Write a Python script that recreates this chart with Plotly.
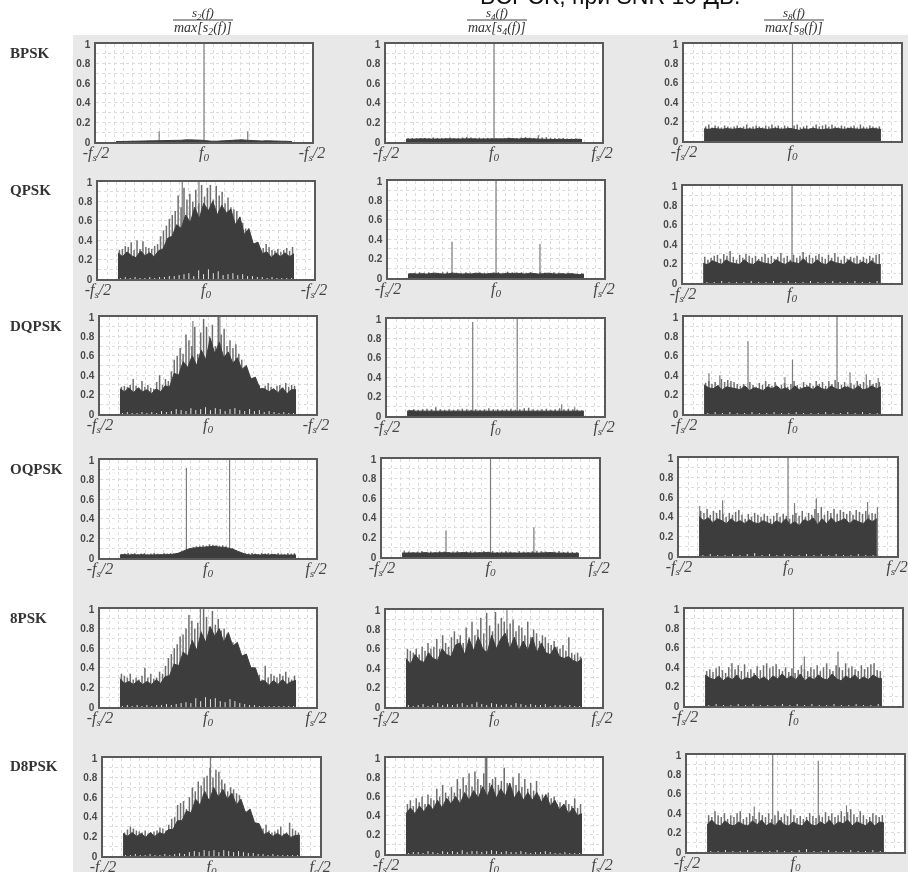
import numpy as np
import plotly.graph_objects as go

BAND_EDGE = 0.815
GREY_BG = "#e8e8e8"

# ---------- column 1 (s2) ----------
bpsk_s2_body = [.004,.005,.006,.008,.01,.01,.012,.01,.008,.01,.012,.012,.015,.018,.022,.024,.02,.018,.012,.008,.008,.012,.016,.02,.024,.022,.018,.014,.012,.01,.012,.01,.01,.008,.006,.005]
bpsk_s2_tip = bpsk_s2_body
bpsk_s2_low = []
bpsk_s2_sx = [-.415, 0, .405]
bpsk_s2_sy = [.11, 1.0, .11]

qpsk_s2_body = [.27,.23,.28,.24,.22,.29,.24,.27,.23,.29,.31,.42,.44,.56,.52,.66,.58,.74,.62,.78,.70,.80,.66,.76,.68,.72,.56,.64,.46,.52,.36,.38,.26,.28,.22,.27,.23,.27,.23,.26]
qpsk_s2_tip = [.30,.31,.34,.33,.38,.30,.40,.31,.39,.33,.32,.31,.34,.36,.44,.50,.55,.62,.66,.70,.86,.74,.94,.82,.88,.80,.92,.78,.97,.85,.94,.97,.82,.96,.86,.90,.78,.84,.74,.72,.70,.64,.58,.52,.48,.40,.34,.38,.30,.32,.36,.33,.30,.29,.31,.28,.30,.32,.29,.33]
qpsk_s2_low = [.01,.02,.01,.02,.01,.01,.02,.01,.02,.02,.03,.03,.04,.05,.06,.03,.09,.05,.10,.06,.08,.04,.05,.06,.04,.05,.03,.03,.02,.02,.01,.02,.01,.01,.01,.01]
qpsk_s2_sx = [-.22, -.065]
qpsk_s2_sy = [1.0, 1.0]

dqpsk_s2_body = [.26,.23,.27,.22,.27,.23,.25,.21,.26,.23,.29,.28,.42,.40,.54,.48,.60,.50,.66,.56,.78,.62,.74,.58,.64,.52,.58,.46,.50,.36,.38,.26,.26,.23,.26,.22,.27,.21,.25,.25]
dqpsk_s2_tip = [.28,.29,.28,.30,.36,.29,.27,.34,.28,.30,.27,.26,.33,.40,.30,.36,.34,.44,.56,.60,.68,.62,.82,.76,.70,.90,.62,.84,.98,.90,.80,.92,.70,1.0,.82,.88,.70,.76,.68,.72,.62,.56,.48,.44,.38,.30,.28,.30,.27,.29,.32,.28,.26,.29,.30,.27,.32,.28,.30,.29]
dqpsk_s2_low = [.01,.02,.01,.01,.02,.01,.02,.01,.03,.02,.03,.05,.04,.03,.06,.04,.05,.07,.04,.06,.05,.03,.05,.06,.04,.03,.05,.03,.04,.02,.03,.02,.01,.02,.01,.01]
dqpsk_s2_sx = [-.14, .11]
dqpsk_s2_sy = [.96, 1.0]

oqpsk_s2_body = [.03,.035,.03,.035,.03,.035,.03,.03,.035,.03,.03,.035,.04,.05,.07,.09,.10,.105,.11,.115,.115,.12,.11,.11,.10,.09,.07,.05,.035,.03,.035,.03,.035,.03,.035,.03,.03,.035,.03,.03]
oqpsk_s2_tip = [.04,.045,.05,.045,.05,.04,.045,.05,.04,.045,.05,.045,.04,.05,.045,.05,.045,.05,.06,.07,.09,.10,.11,.12,.125,.13,.125,.14,.135,.13,.125,.13,.12,.11,.10,.08,.06,.05,.05,.045,.05,.045,.04,.05,.045,.05,.045,.04,.05,.045,.04,.05,.045,.05]
oqpsk_s2_low = []
oqpsk_s2_sx = [-.2, .2]
oqpsk_s2_sy = [.92, 1.0]

epsk_s2_body = [.29,.24,.26,.23,.27,.23,.26,.23,.28,.24,.31,.32,.44,.42,.56,.52,.68,.58,.76,.66,.82,.72,.80,.66,.76,.62,.66,.52,.54,.40,.40,.26,.27,.22,.27,.23,.28,.23,.26,.27]
epsk_s2_tip = [.34,.32,.30,.34,.28,.30,.28,.32,.40,.30,.34,.29,.30,.36,.34,.42,.50,.54,.60,.64,.72,.74,.80,.94,.88,.80,.86,.78,1.0,.92,.82,.98,.84,.90,.78,.80,.74,.68,.66,.60,.52,.48,.42,.38,.30,.27,.30,.33,.28,.42,.30,.34,.32,.30,.34,.32,.36,.30,.28,.32]
epsk_s2_low = [.01,.02,.01,.02,.01,.02,.01,.02,.02,.03,.02,.03,.04,.05,.04,.09,.06,.10,.08,.09,.06,.05,.08,.06,.04,.03,.02,.02,.01,.01,.01,.01,.01,.01,.01,.01]
epsk_s2_sx = [-.07]
epsk_s2_sy = [1.0]

d8psk_s2_body = [.23,.20,.24,.20,.23,.19,.24,.20,.24,.22,.27,.27,.36,.36,.46,.44,.58,.52,.66,.56,.70,.60,.68,.58,.64,.52,.58,.44,.48,.34,.33,.22,.24,.20,.23,.20,.23,.19,.21,.21]
d8psk_s2_tip = [.24,.27,.30,.28,.26,.25,.24,.26,.23,.24,.25,.26,.29,.28,.26,.32,.38,.40,.52,.54,.56,.48,.60,.70,.66,.76,.72,.80,.82,.90,.80,.88,.86,.78,.74,.66,.70,.68,.64,.62,.52,.46,.38,.32,.28,.30,.26,.28,.32,.26,.24,.25,.27,.30,.23,.24,.34,.28,.26,.24]
d8psk_s2_low = [.01,.01,.02,.01,.01,.02,.01,.01,.02,.01,.02,.03,.02,.04,.05,.04,.06,.05,.06,.04,.06,.05,.04,.05,.04,.03,.03,.02,.02,.01,.02,.01,.01,.01,.01,.01]
d8psk_s2_sx = [-.01]
d8psk_s2_sy = [1.0]

# ---------- column 2 (s4) ----------
bpsk_s4_body = [.028,.03,.028,.03,.032,.03,.028,.03,.03,.032,.03,.028,.03,.032,.035,.032,.03,.03,.028,.025,.028,.03,.032,.035,.032,.03,.035,.03,.032,.03,.028,.03,.028,.025,.028,.025,.028,.025,.028,.025]
bpsk_s4_tip = [.04,.042,.038,.04,.042,.04,.045,.04,.042,.04,.045,.04,.042,.045,.05,.045,.042,.045,.04,.042,.04,.038,.035,.04,.045,.042,.04,.045,.05,.045,.042,.04,.045,.05,.042,.04,.038,.04,.035,.036,.038,.034]
bpsk_s4_low = []
bpsk_s4_sx = [0, .41]
bpsk_s4_sy = [1.0, .07]

qpsk_s4_body = [.04,.045,.04,.045,.04,.045,.05,.045,.04,.045,.05,.045,.04,.045,.04,.05,.045,.04,.045,.05,.045,.04,.05,.045,.05,.045,.04,.05,.045,.04,.045,.05,.045,.04,.045,.04,.045,.04,.035,.04]
qpsk_s4_tip = [.05,.055,.06,.055,.06,.055,.05,.06,.065,.06,.055,.05,.06,.055,.05,.06,.055,.05,.055,.06,.055,.065,.06,.055,.06,.055,.06,.05,.06,.055,.05,.06,.055,.05,.055,.05,.045,.05]
qpsk_s4_low = []
qpsk_s4_sx = [-.407, 0, .407]
qpsk_s4_sy = [.37, 1.0, .35]

dqpsk_s4_body = [.05,.055,.05,.05,.055,.05,.055,.05,.05,.055,.05,.05,.055,.05,.05,.055,.05,.05,.055,.05,.05,.055,.05,.055,.05,.05,.055,.05,.055,.05,.05,.055,.05,.05,.055,.05,.05,.055,.05,.05]
dqpsk_s4_tip = [.065,.07,.065,.07,.075,.07,.09,.07,.065,.07,.065,.07,.075,.07,.065,.07,.065,.07,.08,.07,.07,.065,.07,.075,.065,.07,.08,.085,.07,.065,.07,.075,.065,.07,.08,.07,.075,.07,.065,.06]
dqpsk_s4_low = []
dqpsk_s4_sx = [-.21, .2, .61, .73]
dqpsk_s4_sy = [.97, 1.0, .12, .09]

oqpsk_s4_body = [.04,.042,.04,.042,.04,.045,.04,.042,.04,.042,.045,.04,.042,.04,.045,.04,.042,.04,.042,.045,.04,.042,.04,.045,.042,.04,.042,.045,.04,.042,.04,.042,.04,.045,.04,.042,.04,.038,.04,.038]
oqpsk_s4_tip = [.065,.055,.05,.055,.06,.05,.055,.05,.06,.055,.05,.055,.06,.05,.055,.06,.055,.05,.06,.055,.06,.05,.055,.06,.055,.05,.06,.055,.05,.06,.065,.06,.055,.05,.055,.06,.05,.055,.05,.05]
oqpsk_s4_low = []
oqpsk_s4_sx = [-.41, 0, .40]
oqpsk_s4_sy = [.27, 1.0, .30]

epsk_s4_body = [.50,.44,.54,.48,.46,.56,.50,.48,.60,.54,.52,.64,.66,.54,.70,.58,.72,.60,.56,.74,.60,.70,.76,.60,.72,.58,.68,.58,.72,.56,.66,.56,.54,.62,.52,.50,.52,.48,.46,.50]
epsk_s4_tip = [.60,.58,.56,.60,.54,.62,.58,.66,.60,.62,.70,.60,.74,.66,.62,.72,.78,.70,.74,.66,.82,.72,.88,.74,.80,.92,.76,.97,.84,.78,.98,.86,.92,.88,.80,.86,.90,.78,.84,.82,.74,.88,.72,.80,.76,.68,.74,.72,.66,.64,.68,.62,.60,.64,.58,.72,.56,.54,.56,.52]
epsk_s4_low = [.02,.01,.02,.03,.01,.02,.04,.02,.03,.02,.03,.04,.02,.03,.05,.03,.02,.04,.03,.02,.03,.02,.04,.03,.02,.03,.02,.02,.03,.01,.02,.02,.01,.02,.01,.01]
epsk_s4_sx = [.12]
epsk_s4_sy = [1.0]

d8psk_s4_body = [.42,.48,.42,.50,.44,.52,.46,.56,.48,.58,.52,.60,.52,.64,.56,.66,.58,.70,.60,.72,.58,.68,.60,.74,.58,.66,.56,.64,.56,.64,.54,.62,.50,.56,.46,.52,.42,.48,.40,.42]
d8psk_s4_tip = [.52,.56,.50,.58,.54,.60,.52,.62,.58,.56,.68,.60,.72,.64,.60,.70,.64,.78,.68,.80,.72,.84,.70,.86,.78,.72,.84,1.0,.74,.78,.80,.72,.76,.90,.74,.66,.80,.72,.84,.70,.78,.68,.74,.66,.76,.60,.62,.56,.64,.58,.60,.52,.54,.50,.56,.52,.50,.58,.48,.52]
d8psk_s4_low = [.01,.02,.02,.01,.03,.02,.01,.03,.02,.03,.02,.04,.02,.03,.03,.02,.03,.04,.03,.02,.03,.02,.02,.03,.02,.01,.02,.02,.03,.02,.01,.01,.02,.01,.01,.01]
d8psk_s4_sx = [-.08]
d8psk_s4_sy = [1.0]

# ---------- column 3 (s8) ----------
bpsk_s8_body = [.125,.12,.13,.125,.12,.13,.12,.125,.13,.12,.125,.12,.13,.125,.12,.125,.13,.12,.125,.13,.12,.11,.125,.12,.13,.12,.115,.125,.12,.13,.125,.12,.13,.125,.12,.125,.12,.13,.125,.12]
bpsk_s8_tip = [.15,.17,.14,.16,.15,.14,.16,.15,.14,.15,.16,.14,.15,.17,.14,.15,.16,.15,.14,.16,.15,.17,.15,.16,.14,.16,.15,.13,.16,.17,.14,.15,.16,.13,.15,.17,.15,.16,.17,.15,.17,.15,.14,.16,.15,.14,.15,.16,.14,.17,.15,.14,.16,.15,.14,.15]
bpsk_s8_low = []
bpsk_s8_sx = [0]
bpsk_s8_sy = [1.0]

qpsk_s8_body = [.20,.19,.23,.21,.19,.24,.21,.20,.19,.24,.20,.19,.23,.21,.20,.19,.24,.21,.19,.22,.21,.20,.25,.20,.19,.24,.20,.19,.23,.21,.20,.19,.24,.20,.19,.22,.19,.23,.19,.19]
qpsk_s8_tip = [.27,.24,.26,.28,.29,.25,.30,.28,.33,.27,.24,.29,.26,.30,.28,.26,.28,.25,.27,.30,.26,.28,.25,.27,.31,.26,.28,.24,.29,.26,.28,.32,.27,.29,.26,.28,.30,.27,.25,.29,.26,.31,.27,.24,.28,.25,.27,.26,.28,.24,.27,.25,.28,.26,.29,.30]
qpsk_s8_low = [.01,.01,.02,.01,.01,.01,.02,.01,.01,.02,.01,.02,.01,.01,.02,.01,.01,.02,.01,.01,.02,.01,.01,.02]
qpsk_s8_sx = [0]
qpsk_s8_sy = [1.0]

dqpsk_s8_body = [.30,.27,.26,.29,.25,.28,.27,.26,.25,.29,.24,.27,.26,.24,.28,.26,.29,.25,.27,.24,.29,.25,.27,.28,.25,.29,.26,.25,.29,.26,.25,.28,.27,.25,.29,.25,.26,.29,.26,.28]
dqpsk_s8_tip = [.32,.34,.31,.33,.30,.36,.33,.35,.34,.33,.31,.29,.31,.28,.33,.30,.28,.32,.30,.34,.31,.29,.33,.28,.30,.32,.28,.31,.34,.30,.28,.33,.30,.32,.29,.34,.31,.33,.29,.34,.31,.35,.33,.30,.33,.29,.32,.30,.34,.31,.33,.30,.35,.31,.32,.33]
dqpsk_s8_low = [.01,.02,.01,.02,.01,.01,.02,.01,.01,.02,.01,.01,.02,.01,.01,.01,.02,.01,.01,.02,.01,.02,.01,.01]
dqpsk_s8_sx = [-.77, -.67, -.41, -.07, 0, .41, .53, .68, .79]
dqpsk_s8_sy = [.42, .40, .75, .38, .56, 1.0, .43, .41, .37]

oqpsk_s8_body = [.40,.36,.39,.34,.38,.36,.33,.38,.34,.36,.33,.37,.34,.33,.36,.34,.32,.36,.33,.38,.32,.35,.31,.37,.35,.39,.32,.38,.33,.39,.34,.36,.38,.33,.37,.35,.33,.38,.35,.38]
oqpsk_s8_tip = [.46,.44,.48,.42,.46,.44,.47,.43,.40,.44,.42,.45,.47,.42,.38,.43,.40,.44,.42,.40,.43,.41,.38,.41,.44,.40,.43,.41,.38,.42,.44,.41,.46,.40,.44,.42,.48,.44,.50,.42,.46,.44,.48,.43,.47,.45,.43,.46,.42,.47,.45,.43,.46,.42,.44,.43]
oqpsk_s8_low = [.01,.02,.01,.01,.02,.01,.02,.03,.01,.02,.01,.02,.01,.01,.02,.01,.02,.01,.02,.01,.01,.02,.01,.01]
oqpsk_s8_sx = [-.81, -.6, 0, .06, .26, .73, .82]
oqpsk_s8_sy = [.51, .57, 1.0, .54, .59, .55, .50]

epsk_s8_body = [.32,.29,.27,.31,.26,.30,.27,.32,.26,.29,.28,.32,.27,.30,.26,.31,.28,.33,.28,.31,.27,.33,.26,.30,.27,.32,.28,.27,.33,.28,.26,.31,.28,.32,.27,.30,.27,.32,.29,.28]
epsk_s8_tip = [.36,.38,.35,.39,.41,.37,.34,.40,.44,.38,.42,.36,.43,.35,.38,.34,.41,.37,.42,.44,.39,.41,.43,.38,.36,.40,.35,.39,.34,.37,.42,.38,.36,.40,.38,.42,.36,.40,.44,.38,.36,.42,.40,.37,.44,.39,.41,.38,.36,.42,.38,.40,.43,.44,.37,.36]
epsk_s8_low = [.01,.02,.01,.01,.02,.01,.02,.01,.01,.01,.02,.01,.02,.01,.02,.01,.01,.02,.01,.01,.02,.01,.01,.02]
epsk_s8_sx = [0, .1, .41]
epsk_s8_sy = [1.0, .51, .56]

d8psk_s8_body = [.28,.33,.28,.27,.32,.28,.27,.31,.28,.27,.32,.28,.33,.27,.30,.27,.33,.28,.27,.31,.28,.27,.33,.28,.27,.31,.28,.33,.27,.31,.29,.33,.27,.31,.29,.27,.32,.27,.31,.30]
d8psk_s8_tip = [.38,.36,.42,.38,.36,.40,.34,.38,.36,.40,.42,.34,.36,.40,.37,.34,.41,.38,.36,.40,.34,.38,.42,.36,.39,.37,.44,.38,.35,.37,.34,.36,.40,.37,.35,.38,.36,.41,.37,.40,.36,.38,.42,.37,.41,.44,.39,.36,.42,.38,.34,.36,.40,.38,.36,.38]
d8psk_s8_low = [.01,.01,.02,.01,.01,.02,.01,.01,.01,.02,.01,.01,.02,.03,.01,.01,.02,.01,.01,.02,.01,.01,.02,.01]
d8psk_s8_sx = [-.38, -.21, .21, .47]
d8psk_s8_sy = [.47, 1.0, .94, .48]

# ---------- labels ----------
row_names = ["BPSK", "QPSK", "DQPSK", "OQPSK", "8PSK", "D8PSK"]
row_label_y = [53, 190, 326, 469, 618, 766]
header_subs = ["2", "4", "8"]
header_x = [203, 497, 794]
title_text = "BCPCK, при SNR 10 ДБ."
y_ticks = [0, .2, .4, .6, .8, 1]
y_labels = ["<b>0</b>", "<b>0.2</b>", "<b>0.4</b>", "<b>0.6</b>", "<b>0.8</b>", "<b>1</b>"]

# panel boxes in page pixels: x0, x1, y-top, y-bottom
boxes = [
    [(96,312,44,142),(386,602,44,142),(684,901,44,141)],
    [(98,314,182,279),(388,604,181,278),(683,901,186,283)],
    [(100,316,317,414),(387,604,319,416),(684,901,317,414)],
    [(100,316,460,558),(382,599,459,557),(679,897,458,556)],
    [(100,316,609,707),(386,602,610,707),(685,902,609,706)],
    [(103,320,758,856),(386,602,758,854),(687,904,755,852)],
]
panels = [
    [(bpsk_s2_body,bpsk_s2_tip,bpsk_s2_low,bpsk_s2_sx,bpsk_s2_sy),(bpsk_s4_body,bpsk_s4_tip,bpsk_s4_low,bpsk_s4_sx,bpsk_s4_sy),(bpsk_s8_body,bpsk_s8_tip,bpsk_s8_low,bpsk_s8_sx,bpsk_s8_sy)],
    [(qpsk_s2_body,qpsk_s2_tip,qpsk_s2_low,qpsk_s2_sx,qpsk_s2_sy),(qpsk_s4_body,qpsk_s4_tip,qpsk_s4_low,qpsk_s4_sx,qpsk_s4_sy),(qpsk_s8_body,qpsk_s8_tip,qpsk_s8_low,qpsk_s8_sx,qpsk_s8_sy)],
    [(dqpsk_s2_body,dqpsk_s2_tip,dqpsk_s2_low,dqpsk_s2_sx,dqpsk_s2_sy),(dqpsk_s4_body,dqpsk_s4_tip,dqpsk_s4_low,dqpsk_s4_sx,dqpsk_s4_sy),(dqpsk_s8_body,dqpsk_s8_tip,dqpsk_s8_low,dqpsk_s8_sx,dqpsk_s8_sy)],
    [(oqpsk_s2_body,oqpsk_s2_tip,oqpsk_s2_low,oqpsk_s2_sx,oqpsk_s2_sy),(oqpsk_s4_body,oqpsk_s4_tip,oqpsk_s4_low,oqpsk_s4_sx,oqpsk_s4_sy),(oqpsk_s8_body,oqpsk_s8_tip,oqpsk_s8_low,oqpsk_s8_sx,oqpsk_s8_sy)],
    [(epsk_s2_body,epsk_s2_tip,epsk_s2_low,epsk_s2_sx,epsk_s2_sy),(epsk_s4_body,epsk_s4_tip,epsk_s4_low,epsk_s4_sx,epsk_s4_sy),(epsk_s8_body,epsk_s8_tip,epsk_s8_low,epsk_s8_sx,epsk_s8_sy)],
    [(d8psk_s2_body,d8psk_s2_tip,d8psk_s2_low,d8psk_s2_sx,d8psk_s2_sy),(d8psk_s4_body,d8psk_s4_tip,d8psk_s4_low,d8psk_s4_sx,d8psk_s4_sy),(d8psk_s8_body,d8psk_s8_tip,d8psk_s8_low,d8psk_s8_sx,d8psk_s8_sy)],
]

W, H = 908, 872
fig = go.Figure()
SERIF = "Liberation Serif"
SANS = "Liberation Sans"
FS_NEG = "<i>-f<sub>s</sub>/2</i>"
FS_POS = "<i>f<sub>s</sub>/2</i>"
F0 = "<i>f<sub>0</sub></i>"


def stems(xs, ys, width, xa, ya, color):
    """Vertical lines from the baseline up to each value."""
    if len(ys) == 0:
        return
    sx, sy = [], []
    for x, y in zip(xs, ys):
        sx += [x, x, None]
        sy += [0, y, None]
    fig.add_trace(go.Scatter(x=sx, y=sy, mode="lines", line=dict(color=color, width=width),
                             xaxis=xa, yaxis=ya, showlegend=False, hoverinfo="skip"))


def band(vals):
    n = max(len(vals), 1)
    step = 2 * BAND_EDGE / n
    return -BAND_EDGE + step * (np.arange(n) + 0.5)


def mass(vals, xa, ya, color):
    xs = np.linspace(-BAND_EDGE, BAND_EDGE, len(vals))
    fig.add_trace(go.Scatter(x=xs, y=vals, mode="lines", fill="tozeroy", fillcolor=color,
                             line=dict(color=color, width=1), xaxis=xa, yaxis=ya,
                             showlegend=False, hoverinfo="skip"))


idx = 0
for r, row in enumerate(panels):
    for c, (body, tip, low, sx, sy) in enumerate(row):
        idx += 1
        xa, ya = f"x{idx}", f"y{idx}"
        x0, x1, yt, yb = boxes[r][c]
        stems(sx, sy, 1.2, xa, ya, "#7d7d7d")
        stems(band(tip), tip, 1.5, xa, ya, "#6e6e6e")
        mass(body, xa, ya, "#3d3d3d")
        stems(band(low), low, 1.0, xa, ya, "#e4e4e4")
        right = FS_NEG if (c == 0 and r < 3) else FS_POS
        axk = "" if idx == 1 else str(idx)
        fig.update_layout({
            f"xaxis{axk}": dict(
                domain=[x0 / W, x1 / W], range=[-1, 1], anchor=ya,
                tickmode="array", tickvals=[-1, 0, 1], ticktext=[FS_NEG, F0, right],
                tickfont=dict(family=SERIF, size=16, color="#444"),
                showline=True, mirror=True, linecolor="#5a5a5a", linewidth=1.5,
                showgrid=True, gridcolor="#dcdcdc", griddash="dot", gridwidth=1,
                zeroline=False, ticks="", ticklabelstandoff=-5,
                minor=dict(tickmode="linear", tick0=-1, dtick=1/12, showgrid=True,
                           gridcolor="#dcdcdc", griddash="dot", gridwidth=1),
            ),
            f"yaxis{axk}": dict(
                domain=[1 - yb / H, 1 - yt / H], range=[0, 1], anchor=xa,
                tickmode="array", tickvals=y_ticks, ticktext=y_labels,
                tickfont=dict(family=SANS, size=10, color="#4a4a4a"),
                showline=True, mirror=True, linecolor="#5a5a5a", linewidth=1.5,
                showgrid=True, gridcolor="#dcdcdc", griddash="dot", gridwidth=1,
                zeroline=False, ticks="", ticklabelstandoff=2,
                minor=dict(tickmode="linear", tick0=0, dtick=0.1, showgrid=True,
                           gridcolor="#dcdcdc", griddash="dot", gridwidth=1),
            ),
        })

ann = []
for name, y in zip(row_names, row_label_y):
    ann.append(dict(text=f"<b>{name}</b>", x=8 / W, y=1 - y / H, xref="paper", yref="paper",
                    xanchor="left", yanchor="middle", showarrow=False,
                    font=dict(family=SERIF, size=15, color="#333")))
shapes = [
    dict(type="rect", xref="paper", yref="paper", x0=0, x1=73 / W, y0=0, y1=1,
         fillcolor="white", line_width=0, layer="below"),
    dict(type="rect", xref="paper", yref="paper", x0=0, x1=1, y0=1 - 35 / H, y1=1,
         fillcolor="white", line_width=0, layer="below"),
]
for sub, cx in zip(header_subs, header_x):
    ann.append(dict(text=f"<i>s<sub>{sub}</sub>(f)</i>", x=cx / W, y=1 - 14 / H, xref="paper", yref="paper",
                    xanchor="center", yanchor="middle", showarrow=False,
                    font=dict(family=SERIF, size=13, color="#333")))
    ann.append(dict(text=f"<i>max[s<sub>{sub}</sub>(f)]</i>", x=cx / W, y=1 - 28 / H, xref="paper", yref="paper",
                    xanchor="center", yanchor="middle", showarrow=False,
                    font=dict(family=SERIF, size=14, color="#333")))
    shapes.append(dict(type="line", xref="paper", yref="paper", x0=(cx - 30) / W, x1=(cx + 30) / W,
                       y0=1 - 20 / H, y1=1 - 20 / H, line=dict(color="#444", width=1)))
ann.append(dict(text=title_text, x=610 / W, y=1 + 4 / H, xref="paper", yref="paper", xanchor="center",
                yanchor="middle", showarrow=False, font=dict(family=SANS, size=23, color="#111")))

fig.update_layout(width=W, height=H, margin=dict(l=0, r=0, t=0, b=0, autoexpand=False), paper_bgcolor=GREY_BG,
                  plot_bgcolor="white", showlegend=False, annotations=ann, shapes=shapes)
fig.write_html("out.html", config={"displayModeBar": False},
               post_script="document.body.style.margin='0';document.body.style.overflow='hidden';"
                           "document.querySelector('.plotly-graph-div').style.filter='blur(0.45px)';")
